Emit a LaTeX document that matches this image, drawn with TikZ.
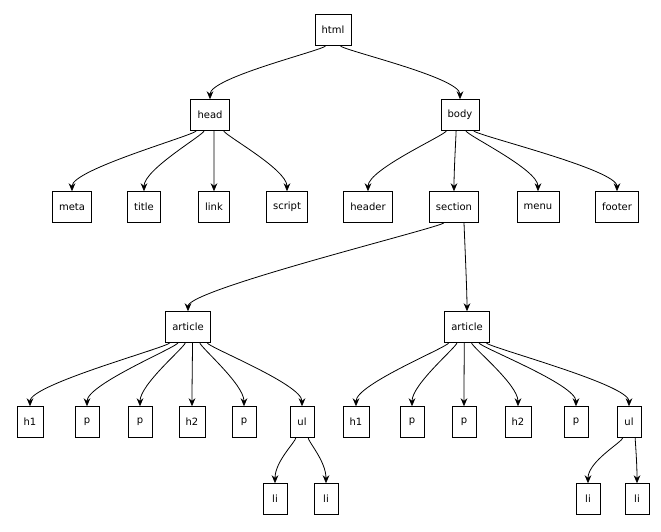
\documentclass[tikz,border=0pt]{standalone}
\usepackage{fontspec}
\setmainfont{DejaVu Sans}
\usetikzlibrary{calc,arrows.meta}
\begin{document}
\begin{tikzpicture}[x=0.75pt,y=-0.75pt,
  box/.style={draw,line width=0.6pt,fill=white,minimum height=23pt,minimum width=18pt,inner xsep=5pt,inner ysep=0pt,font=\fontsize{7.5}{9}\selectfont},
  arr/.style={-{Stealth[length=6pt,width=5pt]},line width=0.6pt}]
\newcommand{\edg}[3]{\draw[arr] ($(#1.south west)!#2!(#1.south east)$) .. controls ($(#1.south west)!#2!(#1.south east)+(0,4)$) and ($(#3.north)+(0,-22)$) .. (#3.north);}
\useasboundingbox (0,0) rectangle (661,532);
\node[box] (html) at (333,30) {html};
\node[box] (head) at (210,115) {head};
\node[box] (body) at (460,115) {body};
\node[box] (meta) at (72,207) {meta};
\node[box] (title) at (144,207) {title};
\node[box] (link) at (214,207) {link};
\node[box] (script) at (287,207) {script};
\node[box] (header) at (368,207) {header};
\node[box] (section) at (454,207) {section};
\node[box] (menu) at (538,207) {menu};
\node[box] (footer) at (617,207) {footer};
\node[box] (a1) at (188,327) {article};
\node[box] (a2) at (467,327) {article};
\node[box] (h1a) at (30,422) {h1};
\node[box] (p1a) at (87,422) {p};
\node[box] (p2a) at (140,422) {p};
\node[box] (h2a) at (192,422) {h2};
\node[box] (p3a) at (244,422) {p};
\node[box] (ula) at (302,422) {ul};
\node[box] (h1b) at (356,422) {h1};
\node[box] (p1b) at (412,422) {p};
\node[box] (p2b) at (464,422) {p};
\node[box] (h2b) at (518,422) {h2};
\node[box] (p3b) at (576,422) {p};
\node[box] (ulb) at (629,422) {ul};
\node[box] (li1a) at (275,499) {li};
\node[box] (li2a) at (326,499) {li};
\node[box] (li1b) at (588,499) {li};
\node[box] (li2b) at (637,499) {li};
\edg{html}{0.3}{head}
\edg{html}{0.7}{body}
\edg{head}{0.15}{meta}
\edg{head}{0.35}{title}
\edg{head}{0.6}{link}
\edg{head}{0.85}{script}
\edg{body}{0.15}{header}
\edg{body}{0.4}{section}
\edg{body}{0.65}{menu}
\edg{body}{0.85}{footer}
\edg{section}{0.3}{a1}
\edg{section}{0.7}{a2}
\edg{a1}{0.1}{h1a}
\edg{a1}{0.28}{p1a}
\edg{a1}{0.44}{p2a}
\edg{a1}{0.6}{h2a}
\edg{a1}{0.76}{p3a}
\edg{a1}{0.92}{ula}
\edg{a2}{0.1}{h1b}
\edg{a2}{0.28}{p1b}
\edg{a2}{0.44}{p2b}
\edg{a2}{0.6}{h2b}
\edg{a2}{0.76}{p3b}
\edg{a2}{0.92}{ulb}
\edg{ula}{0.25}{li1a}
\edg{ula}{0.75}{li2a}
\edg{ulb}{0.25}{li1b}
\edg{ulb}{0.75}{li2b}
\end{tikzpicture}
\end{document}
